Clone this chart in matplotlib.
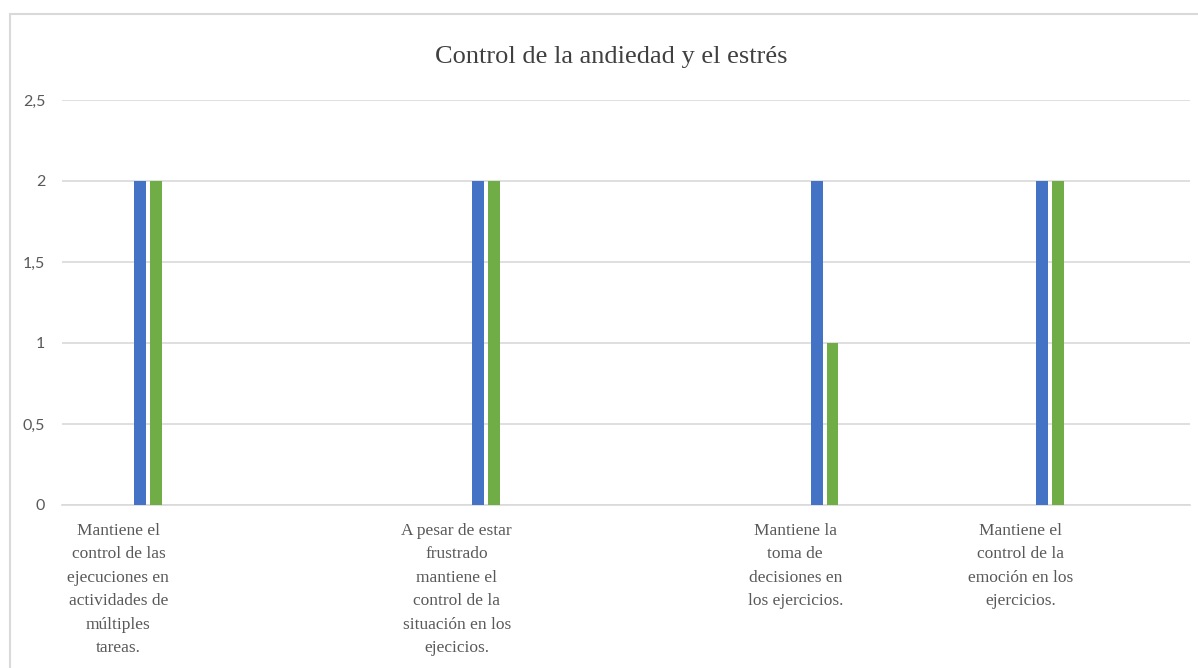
import numpy as np
import matplotlib.pyplot as plt
from matplotlib.patches import Rectangle

# Categorías del gráfico (las vacías reservan espacio en el eje)
categorias = [
    "Mantiene el\ncontrol de las\nejecuciones en\nactividades de\nmúltiples\ntareas.",
    "", "",
    "A pesar de estar\nfrustrado\nmantiene el\ncontrol de la\nsituación en los\nejecicios.",
    "", "",
    "Mantiene la\ntoma de\ndecisiones en\nlos ejercicios.",
    "",
    "Mantiene el\ncontrol de la\nemoción en los\nejercicios.",
    "",
]
serie_azul = [2, 0, 0, 2, 0, 0, 2, 0, 2, 0]
serie_verde = [2, 0, 0, 2, 0, 0, 1, 0, 2, 0]
y_ticks = [0, 0.5, 1, 1.5, 2, 2.5]
y_tick_labels = ["0", "0,5", "1", "1,5", "2", "2,5"]

azul = "#4472C4"
verde = "#70AD47"
gris = "#595959"
rejilla = "#D9D9D9"

fig = plt.figure(figsize=(11.98, 6.68), dpi=100)
ax = fig.add_axes([62 / 1198, 1 - 505 / 668, 1128 / 1198, 405 / 668])

x = np.arange(len(categorias))
ancho = 0.105
ax.bar(x + 0.19, serie_azul, width=ancho, color=azul, zorder=3)
ax.bar(x + 0.33, serie_verde, width=ancho, color=verde, zorder=3)

ax.set_xlim(-0.5, len(categorias) - 0.5)
ax.set_ylim(0, 2.5)
ax.set_yticks(y_ticks)
ax.set_yticklabels(y_tick_labels, family="Lato", fontsize=11.5, color=gris)
ax.set_xticks(x)
ax.set_xticklabels(categorias, family="Liberation Serif", fontsize=12.5,
                   color=gris, linespacing=1.62, va="top")
ax.tick_params(axis="both", length=0)
ax.tick_params(axis="y", pad=12)
ax.tick_params(axis="x", pad=13)

ax.grid(axis="y", color=rejilla, linewidth=1.2, zorder=0)
for lado in ["top", "right", "left"]:
    ax.spines[lado].set_visible(False)
ax.spines["bottom"].set_color(rejilla)
ax.spines["bottom"].set_linewidth(1.2)

fig.text(611 / 1198, 1 - 57 / 668, "Control de la andiedad y el estrés",
         family="Liberation Serif", fontsize=19, color="#404040",
         ha="center", va="center")

# Borde del área del gráfico
fig.patches.append(Rectangle((10 / 1198, -0.05), 1.1, 1.05 - 14 / 668,
                             transform=fig.transFigure, fill=False,
                             edgecolor=rejilla, linewidth=1.5))

fig.savefig("out.png", dpi=100)
